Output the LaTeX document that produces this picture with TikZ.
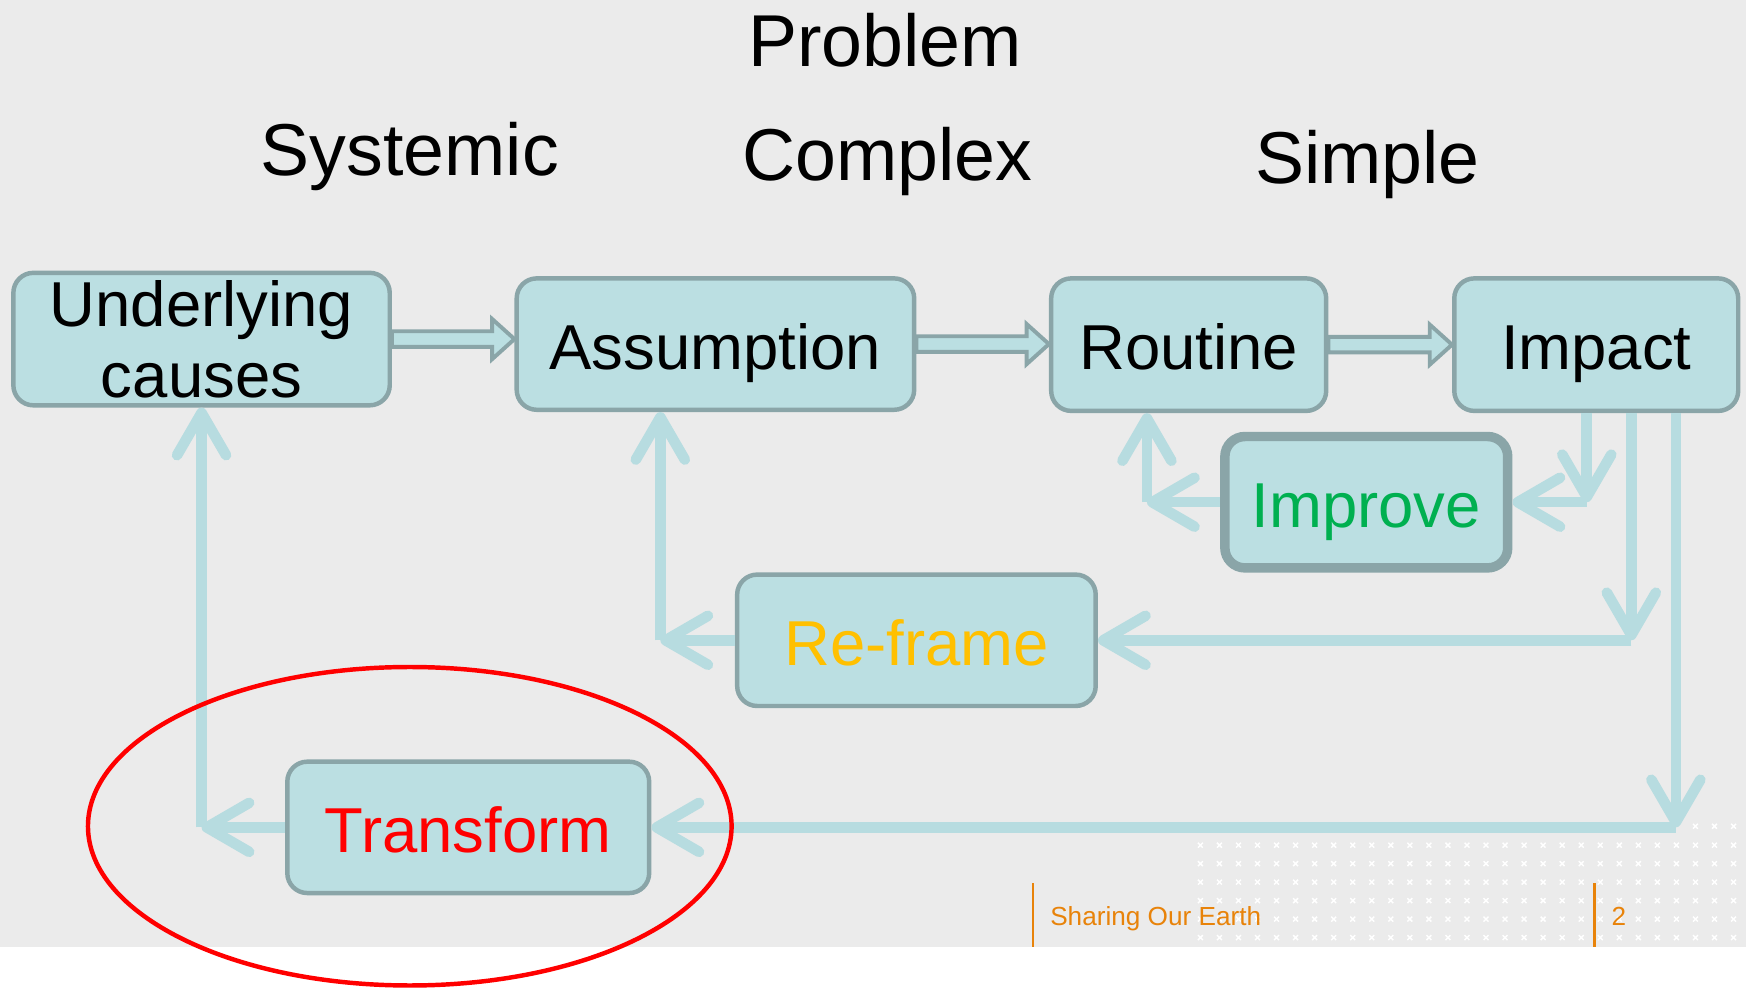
\documentclass[tikz,border=0pt]{standalone}
\usepackage{fontspec}
\setmainfont{Liberation Sans}
\usetikzlibrary{arrows.meta,calc}
\definecolor{slide}{HTML}{EBEBEB}
\definecolor{boxfill}{HTML}{BBDFE2}
\definecolor{boxline}{HTML}{8AA5A8}
\definecolor{flow}{HTML}{B7DCE0}
\definecolor{improvegreen}{HTML}{00B050}
\definecolor{reframegold}{HTML}{FFC000}
\definecolor{footorange}{HTML}{E8830A}

\begin{document}
\begin{tikzpicture}[x=1pt,y=-1pt]
\tikzstyle{every node}+=[inner sep=0pt]
\tikzstyle{heading}=[font=\fontsize{66}{70}\selectfont, anchor=base]
\tikzstyle{stage}=[draw=boxline, fill=boxfill, line width=4pt, rounded corners=18pt, font=\fontsize{57}{64}\selectfont]
\tikzstyle{oneline}=[text height=45pt, text depth=0pt]
\tikzstyle{hollow}=[draw=boxline, fill=boxfill, line width=3.5pt, to path={let \p1=(\tikztostart), \p2=(\tikztotarget) in (\x1,\y1+7) -- (\x2-20,\y1+7) -- (\x2-20,\y1+18) -- (\x2,\y1) -- (\x2-20,\y1-18) -- (\x2-20,\y1-7) -- (\x1,\y1-7) -- cycle}]
\tikzstyle{flowarrow}=[draw=flow, line width=9.5pt, -{Straight Barb[length=38pt,width=44pt,round]}]
\tikzstyle{footer}=[font=\fontsize{23.5}{26}\selectfont, text=footorange, anchor=base west]
\tikzstyle{dotx}=[draw=white, line width=1.3pt]
\useasboundingbox (0,0) rectangle (1568,887.3);
\fill [slide] (0,0) rectangle (1568,850.6);
\foreach \row in {759,775.6,792.2,808.8,825.4,842}
  \foreach \col in {0,...,28}
    \draw [dotx] (1078+17.1*\col-2.2,\row-2.2) -- ++(4.4,4.4) ++(-4.4,0) -- ++(4.4,-4.4);
\foreach \col in {26,27,28}
  \draw [dotx] (1078+17.1*\col-2.2,742-2.2) -- ++(4.4,4.4) ++(-4.4,0) -- ++(4.4,-4.4);
\node [heading] (problem) at (795,60) {Problem};
\node [heading] (systemic) at (368,158) {Systemic};
\node [heading] (complex) at (797,162) {Complex};
\node [heading] (simple) at (1228,165) {Simple};
\node [stage, align=center, minimum width=338pt, minimum height=119pt] (under) at (181,304.5) {Underlying\\causes};
\node [stage, oneline, minimum width=357pt, minimum height=118pt] (assump) at (642.5,309) {Assumption};
\node [stage, oneline, minimum width=247pt, minimum height=119pt] (routine) at (1067.5,309.5) {Routine};
\node [stage, oneline, minimum width=255pt, minimum height=119pt] (impact) at (1433.5,309.5) {Impact};
\node [stage, oneline, line width=8.5pt, text=improvegreen, minimum width=254pt, minimum height=118pt] (improve) at (1227,451) {Improve};
\node [stage, oneline, text=reframegold, minimum width=322pt, minimum height=118pt] (reframe) at (823,575) {Re-frame};
\node [stage, oneline, text=red, minimum width=325pt, minimum height=118pt] (transform) at (420.5,743) {Transform};
\draw [hollow] (under.east) to (assump.west);
\draw [hollow] (assump.east) to (routine.west);
\draw [hollow] (routine.east) to (impact.west);
\coordinate (improvein) at (1425,451);
\coordinate (improveout) at (1030,451);
\coordinate (reframein) at (1465,575);
\coordinate (reframeout) at (593,575);
\coordinate (transformin) at (1505,743);
\coordinate (transformout) at (181,743);
\draw [flowarrow] (impact.south -| improvein) -- (improvein);
\draw [flowarrow] (improvein) -- (improve.east);
\draw [flowarrow] (improve.west) -- (improveout);
\draw [flowarrow] (improveout) -- (improveout |- routine.south);
\draw [flowarrow] (impact.south -| reframein) -- (reframein);
\draw [flowarrow] (reframein) -- (reframe.east);
\draw [flowarrow] (reframe.west) -- (reframeout);
\draw [flowarrow] (reframeout) -- (reframeout |- assump.south);
\draw [flowarrow] (impact.south -| transformin) -- (transformin);
\draw [flowarrow] (transformin) -- (transform.east);
\draw [flowarrow] (transform.west) -- (transformout);
\draw [flowarrow] (transformout) -- (transformout |- under.south);
\draw [red, line width=4pt] (368,742) ellipse [x radius=289, y radius=143];
\draw [footorange, line width=2pt] (928,793) -- (928,850.6);
\node [footer] (brand) at (943,831) {Sharing Our Earth};
\draw [footorange, line width=2pt] (1432,793) -- (1432,850.6);
\node [footer] (page) at (1447,831) {2};
\end{tikzpicture}
\end{document}
